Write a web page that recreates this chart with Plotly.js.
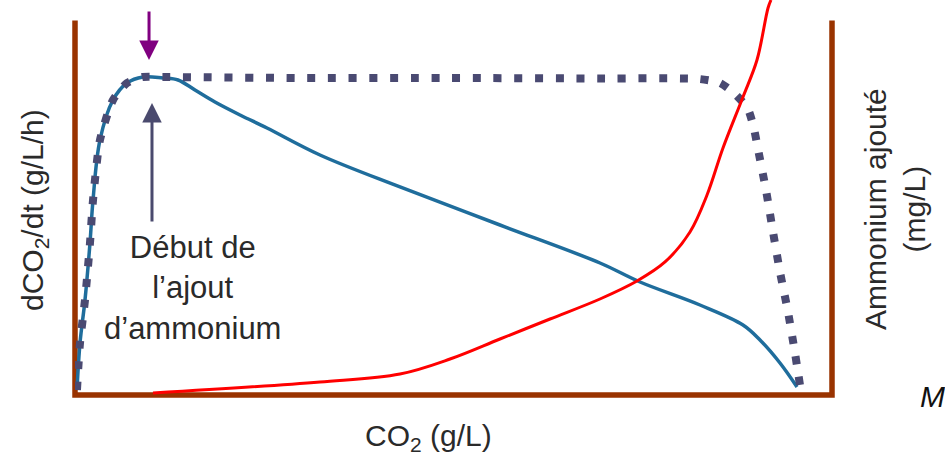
<!DOCTYPE html>
<html>
<head>
<meta charset="utf-8">
<script src="https://cdn.plot.ly/plotly-3.0.1.min.js"></script>
<style>
  html, body { margin: 0; padding: 0; background: #ffffff; }
  #chart { width: 945px; height: 455px; }
</style>
</head>
<body>
<div id="chart"></div>
<script>
// CO2 produced (arbitrary units, 0-100 across the frame)
const rateX = [0.26, 0.66, 1.32, 1.98, 2.38, 3.30, 5.02, 6.87, 8.98, 11.62, 13.61, 15.85, 18.49, 21.80, 25.36, 32.36, 42.93, 56.14, 69.35, 74.64, 82.56, 88.24, 90.49, 93.13, 95.38];
// dCO2/dt with ammonium addition (blue, solid)
const rateY = [1.33, 13.87, 25.33, 40.53, 52.0, 68.0, 78.67, 83.2, 84.8, 84.53, 84.0, 81.33, 78.13, 74.67, 71.2, 64.0, 55.47, 45.33, 35.2, 30.13, 24.0, 18.67, 14.67, 8.53, 2.13];

// dCO2/dt reference (dotted)
const refX = [0.26, 0.66, 1.32, 1.98, 2.38, 3.30, 5.02, 6.87, 8.98, 11.62, 29.72, 49.54, 69.35, 82.43, 85.2, 87.19, 88.9, 89.7, 90.22, 91.28, 92.21, 93.13, 94.19, 95.11, 95.77];
const refY = [1.33, 13.87, 25.33, 40.53, 52.0, 68.0, 78.67, 83.2, 84.8, 84.8, 84.53, 84.53, 84.4, 84.27, 83.2, 80.27, 76.27, 70.93, 65.6, 54.67, 43.47, 32.8, 22.13, 11.2, 2.67];

// Ammonium added (red)
const nh4X = [10.30, 32.36, 42.93, 49.54, 56.14, 62.75, 69.35, 74.24, 77.94, 81.24, 83.49, 85.6, 88.24, 90.09, 91.55, 91.94];
const nh4Y = [0.53, 3.47, 5.6, 9.6, 14.93, 20.27, 25.6, 30.4, 35.47, 43.47, 53.33, 65.87, 79.47, 89.33, 103.2, 105.33];

const xLabel = 'CO<sub>2</sub> (g/L)';
const yLabel = 'dCO<sub>2</sub>/dt (g/L/h)';
const y2Label = 'Ammonium ajouté<br>(mg/L)';
const noteText = 'Début de<br>l’ajout<br>d’ammonium';

const FONT = 'Liberation Sans, Arial, sans-serif';
const TXT = '#2a2a2a';

const traces = [
  { x: rateX, y: rateY, type: 'scatter', mode: 'lines',
    line: { color: '#1f6d9c', width: 3.5, shape: 'spline', smoothing: 1 }, hoverinfo: 'skip' },
  { x: refX, y: refY, type: 'scatter', mode: 'lines',
    line: { color: '#4a4a72', width: 8, dash: '8px,12.7px', shape: 'spline', smoothing: 0.6 }, hoverinfo: 'skip' },
  { x: nh4X, y: nh4Y, type: 'scatter', mode: 'lines', yaxis: 'y2',
    line: { color: '#ff0000', width: 3, shape: 'spline', smoothing: 1 }, hoverinfo: 'skip' }
];

const hidden = { showgrid: false, zeroline: false, showticklabels: false, showline: false, ticks: '' };

const layout = {
  width: 945, height: 455,
  margin: { l: 75, r: 113, t: 0, b: 60 },
  paper_bgcolor: '#ffffff', plot_bgcolor: '#ffffff',
  showlegend: false,
  xaxis: Object.assign({ range: [0, 100] }, hidden),
  yaxis: Object.assign({ range: [0, 105.33] }, hidden),
  yaxis2: Object.assign({ range: [0, 105.33], overlaying: 'y', side: 'right' }, hidden),
  shapes: [
    { type: 'path', xref: 'paper', yref: 'paper',
      path: 'M0,0.948 L0,0 L1,0 L1,0.948',
      line: { color: '#993300', width: 5.5 }, layer: 'below' }
  ],
  annotations: [
    // purple arrow (down)
    { x: 9.78, y: 89.33, xref: 'x', yref: 'y', text: '', showarrow: true,
      ax: 0, ay: -50, arrowhead: 2, arrowsize: 1.3, arrowwidth: 3, arrowcolor: '#800080' },
    // navy arrow (up)
    { x: 10.17, y: 77.87, xref: 'x', yref: 'y', text: '', showarrow: true,
      ax: 0, ay: 120, arrowhead: 2, arrowsize: 1.3, arrowwidth: 3, arrowcolor: '#4a4a6e' },
    { x: (192 - 75) / 757, y: (395 - 228) / 395, xref: 'paper', yref: 'paper',
      xanchor: 'center', yanchor: 'top', text: noteText, showarrow: false, align: 'center',
      font: { family: FONT, size: 31, color: TXT } },
    { x: (35 - 75) / 757, y: (395 - 210) / 395, xref: 'paper', yref: 'paper',
      xanchor: 'center', yanchor: 'middle', text: yLabel, showarrow: false, textangle: -90,
      font: { family: FONT, size: 30, color: TXT } },
    { x: (895 - 75) / 757, y: (395 - 209) / 395, xref: 'paper', yref: 'paper',
      xanchor: 'center', yanchor: 'middle', text: y2Label, showarrow: false, textangle: -90, align: 'center',
      font: { family: FONT, size: 30, color: TXT } },
    { x: (428 - 75) / 757, y: (395 - 417) / 395, xref: 'paper', yref: 'paper',
      xanchor: 'center', yanchor: 'top', text: xLabel, showarrow: false,
      font: { family: FONT, size: 30, color: TXT } },
    { x: (918 - 75) / 757, y: (395 - 396) / 395, xref: 'paper', yref: 'paper',
      xanchor: 'left', yanchor: 'middle', text: '<i>M</i>', showarrow: false,
      font: { family: FONT, size: 30, color: '#111111' } }
  ]
};

Plotly.newPlot('chart', traces, layout, { staticPlot: true, displayModeBar: false });
</script>
</body>
</html>
